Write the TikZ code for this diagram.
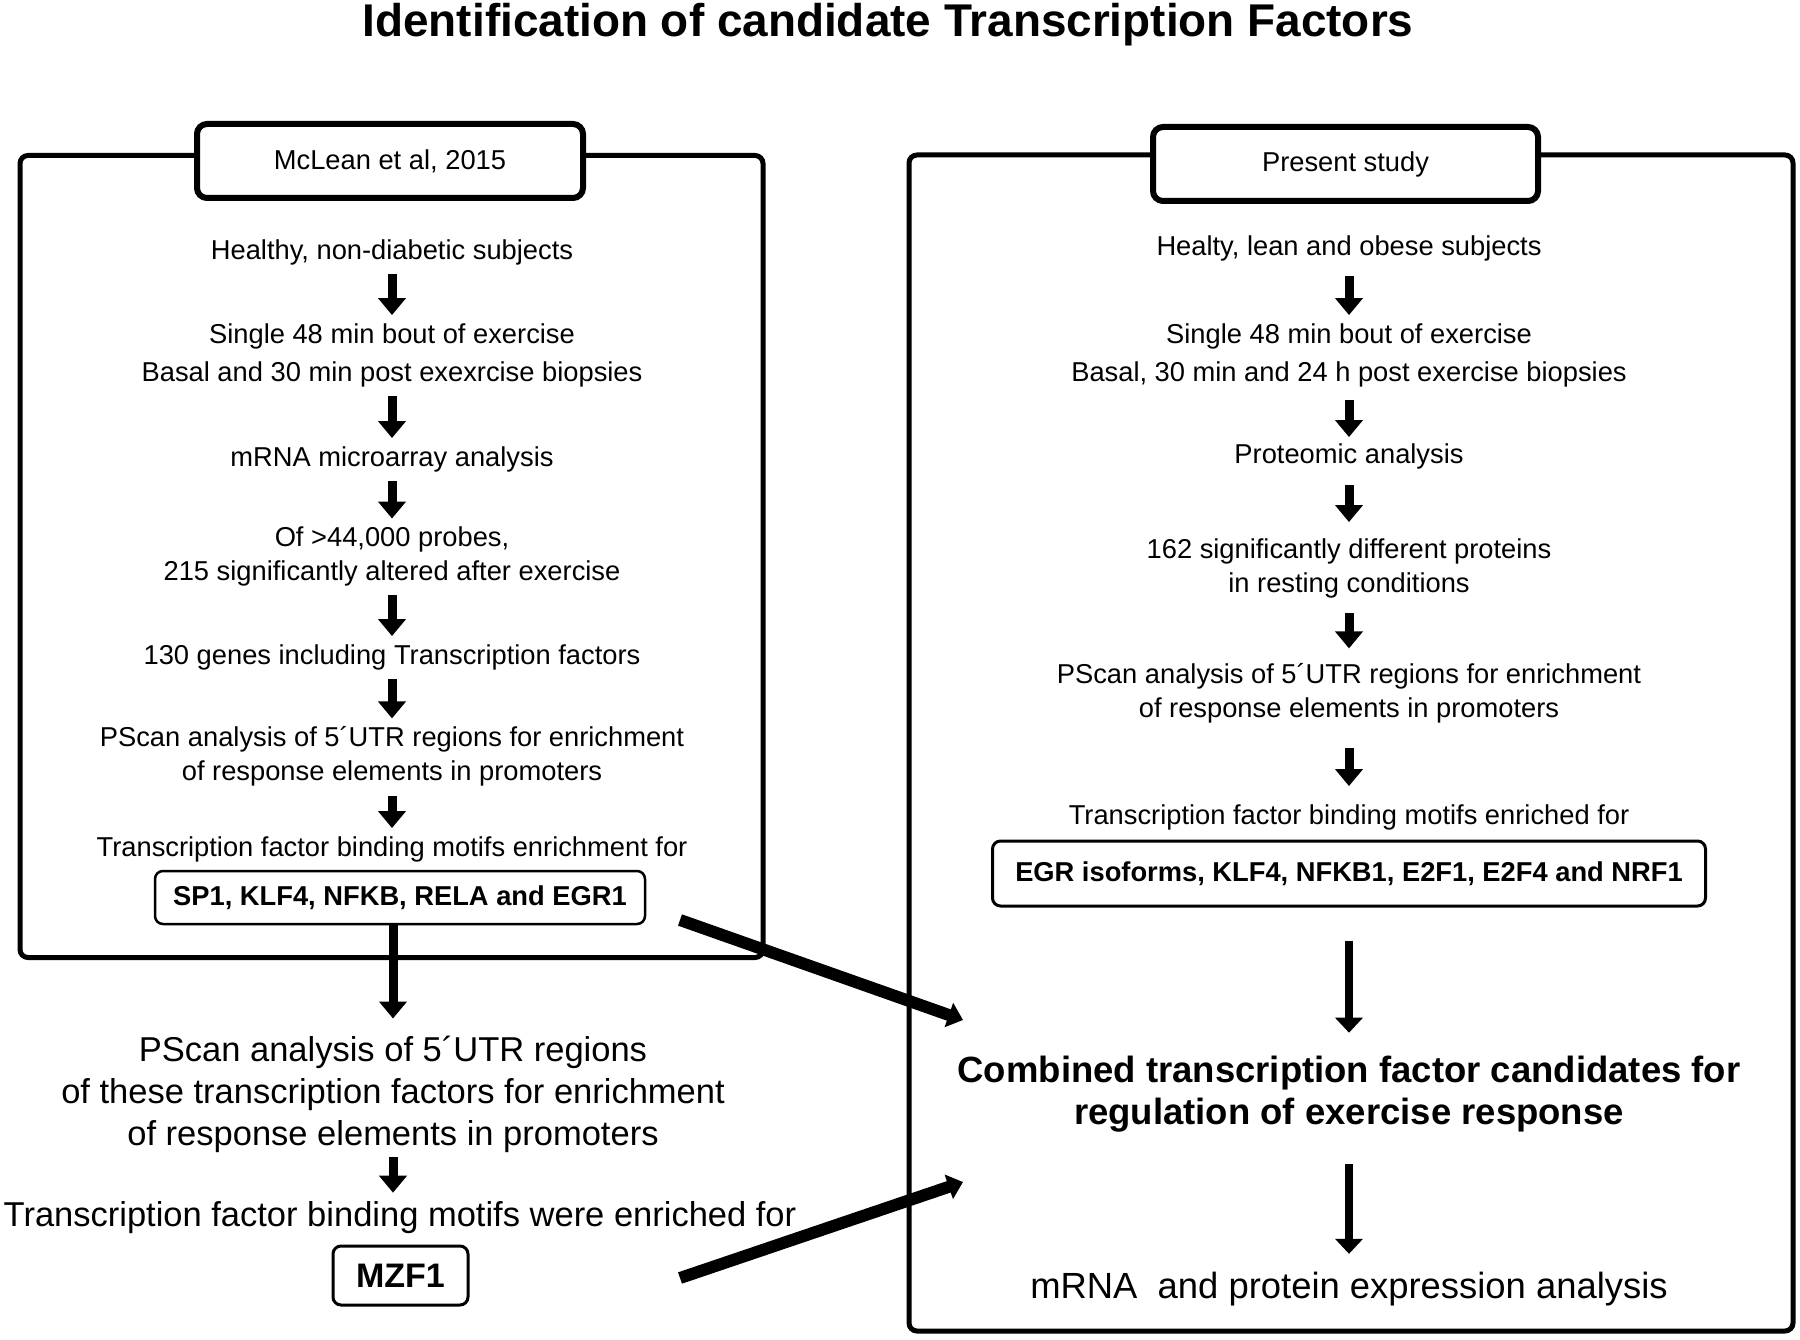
\documentclass[tikz,border=0pt]{standalone}
\usepackage{fontspec}
\setmainfont{Liberation Sans}
\usetikzlibrary{arrows.meta}
\newcommand\txtfont{\fontsize{27.3}{34}\selectfont}
\newcommand\bigtxtfont{\fontsize{34.5}{42}\selectfont}
\newcommand\combfont{\fontsize{36.5}{42}\selectfont\bfseries}
\newcommand\headlinefont{\fontsize{45.9}{55}\selectfont\bfseries}
\tikzset{
    txt/.style ={align=center, inner sep=0pt, yshift=-3pt, font=\txtfont},
    bigtxt/.style ={align=center, inner sep=0pt, yshift=-3pt, font=\bigtxtfont},
    frame/.style ={draw, line width=5pt, rounded corners=8pt, inner sep=0pt},
    headbox/.style ={draw, fill=white, line width=6pt, rounded corners=10pt, inner sep=0pt, font=\txtfont},
    tfbox/.style ={draw, line width=2.5pt, rounded corners=8pt, inner sep=0pt, font=\txtfont\bfseries},
    down/.style ={-{Triangle[width=27pt,length=17pt]}, line width=9pt, shorten <=9pt, shorten >=8pt},
    longdown/.style ={-{Triangle[width=27pt,length=15pt]}, line width=8pt},
    fat/.style ={-{Triangle[width=25pt,length=15pt]}, line width=12pt}}

\begin{document}
\begin{tikzpicture}[x=1pt,y=-1pt]
        \useasboundingbox (0,0) rectangle (1800,1340);
        \node[inner sep=0pt, font=\headlinefont] (title) at (888,25) {Identification of candidate Transcription Factors};
        % frames
        \node[frame, minimum width=743pt, minimum height=802pt] (lbox) at (391.5,556.5) {};
        \node[frame, minimum width=884pt, minimum height=1176pt] (rbox) at (1351,743) {};
        \node[headbox, minimum width=386pt, minimum height=74pt] (lhead) at (390,161) {McLean et al, 2015};
        \node[headbox, minimum width=385pt, minimum height=74pt] (rhead) at (1345.5,164) {Present study};
        % left column
        \node[txt] (l1) at (392,249) {Healthy, non-diabetic subjects};
        \node[txt] (l2) at (392,352) {Single 48 min bout of exercise\\[4pt]Basal and 30 min post exexrcise biopsies};
        \node[txt] (l3) at (392,456) {mRNA microarray analysis};
        \node[txt] (l4) at (392,553.5) {Of >44,000 probes,\\215 significantly altered after exercise};
        \node[txt] (l5) at (392,654) {130 genes including Transcription factors};
        \node[txt] (l6) at (392,753.5) {PScan analysis of 5´UTR regions for enrichment\\of response elements in promoters};
        \node[txt] (l7) at (392,846) {Transcription factor binding motifs enrichment for};
        \node[tfbox, minimum width=490pt, minimum height=53pt] (lsp) at (400,897.5) {SP1, KLF4, NFKB, RELA and EGR1};
        \node[bigtxt] (lb1) at (393,1091) {PScan analysis of 5´UTR regions\\of these transcription factors for enrichment\\of response elements in promoters};
        \node[bigtxt] (lb2) at (400,1215) {Transcription factor binding motifs were enriched for};
        \node[tfbox, line width=3pt, font=\fontsize{34}{40}\selectfont\bfseries, minimum width=135pt, minimum height=59pt] (lmzf) at (400.5,1275.5) {MZF1};
        % right column
        \node[txt] (r1) at (1349,245) {Healty, lean and obese subjects};
        \node[txt] (r2) at (1349,352) {Single 48 min bout of exercise\\[4pt]Basal, 30 min and 24 h post exercise biopsies};
        \node[txt] (r3) at (1349,453) {Proteomic analysis};
        \node[txt] (r4) at (1349,565) {162 significantly different proteins\\in resting conditions};
        \node[txt] (r5) at (1349,690.5) {PScan analysis of 5´UTR regions for enrichment\\of response elements in promoters};
        \node[txt] (r6) at (1349,814) {Transcription factor binding motifs enriched for};
        \node[tfbox, line width=3pt, minimum width=713pt, minimum height=65pt] (regr) at (1349,873.5) {EGR isoforms, KLF4, NFKB1, E2F1, E2F4 and NRF1};
        \node[align=center, inner sep=0pt, yshift=-3pt, font=\combfont] (comb) at (1349,1091) {Combined transcription factor candidates for\\regulation of exercise response};
        \node[inner sep=0pt, yshift=-3pt, font=\fontsize{36.4}{42}\selectfont] (rend) at (1349,1286) {mRNA\ \ and protein expression analysis};
        % arrows
        \draw[down] (l1) -- (l2);
        \draw[down] (l2) -- (l3);
        \draw[down] (l3) -- (l4);
        \draw[down] (l4) -- (l5);
        \draw[down] (l5) -- (l6);
        \draw[down] (l6) -- (l7);
        \draw[down, shorten <=0pt, shorten >=17pt] (lsp.south -| lb1.center) -- (lb1);
        \draw[down, shorten <=5pt, shorten >=9pt] (lb1) -- (lb1 |- lb2.north);
        \draw[down, shorten <=15pt] (r1) -- (r2);
        \draw[down, shorten <=13pt, shorten >=6pt] (r2) -- (r3);
        \draw[down, shorten <=16pt, shorten >=16pt] (r3) -- (r4);
        \draw[down, shorten <=15pt, shorten >=15pt] (r4) -- (r5);
        \draw[down, shorten <=24pt, shorten >=18pt] (r5) -- (r6);
        \draw[longdown, shorten <=33pt, shorten >=23pt] (regr) -- (comb);
        \draw[longdown, shorten <=32pt, shorten >=18pt] (comb) -- (rend);
        \coordinate (sptail) at (680,920);
        \coordinate (combin1) at (963,1020);
        \coordinate (mzftail) at (680,1278);
        \coordinate (combin2) at (963,1182);
        \draw[fat] (sptail) -- (combin1);
        \draw[fat] (mzftail) -- (combin2);
\end{tikzpicture}
\end{document}
